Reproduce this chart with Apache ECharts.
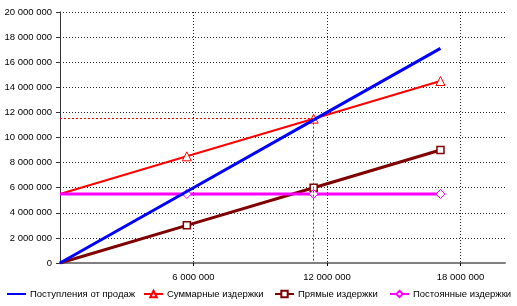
<!DOCTYPE html>
<html><head><meta charset="utf-8">
<script src="https://cdn.jsdelivr.net/npm/echarts@6/dist/echarts.min.js"></script>
<style>html,body{margin:0;padding:0;background:#fff}#c{width:517px;height:306px}</style>
</head><body><div id="c"></div>
<script>
const volume = [0, 5700000, 11400000, 17100000];
const revenue = [0, 5700000, 11400000, 17100000];
const totalCosts = [5500000, 8500000, 11500000, 14500000];
const directCosts = [0, 3000000, 6000000, 9000000];
const fixedCosts = [5500000, 5500000, 5500000, 5500000];
const seriesNames = ['Поступления от продаж', 'Суммарные издержки', 'Прямые издержки', 'Постоянные издержки'];
const xLabelValues = [6000000, 12000000, 18000000];
const breakEven = [11400000, 11500000];

const fmt = v => String(v).replace(/\B(?=(\d{3})+(?!\d))/g, ' ');
const pts = (ys) => volume.map((x, i) => {
  const p = {value: [x, ys[i]]};
  if (i === 0) p.symbol = 'none';
  return p;
});
const FONT = '"Liberation Sans", Arial, sans-serif';
const FS = 9.5;
const legendLefts = [6, 143, 274, 389];
const legends = seriesNames.map((n, i) => ({
  left: legendLefts[i], top: 289, padding: 0, itemWidth: 19, itemHeight: 8, itemGap: 0,
  textStyle: {fontFamily: FONT, fontSize: FS, color: '#000', padding: [0, 0, 0, -1]},
  data: [i === 0 ? {name: n, itemStyle: {color: 'rgba(0,0,0,0)', borderColor: 'rgba(0,0,0,0)'}} : n]
}));
const chart = echarts.init(document.getElementById('c'), null, {renderer: 'canvas'});
chart.setOption({
  animation: false,
  grid: {left: 60, right: 12, top: 12, bottom: 43, containLabel: false, outerBoundsMode: 'none'},
  legend: legends,
  xAxis: {
    type: 'value', min: 0, max: 20000000, interval: 2000000,
    axisLine: {show: true, lineStyle: {color: '#808080', width: 2}},
    axisTick: {show: true, customValues: xLabelValues, length: 3, inside: false, lineStyle: {color: '#000'}},
    axisLabel: {customValues: xLabelValues, formatter: fmt, fontFamily: FONT, fontSize: FS, color: '#000', margin: 9},
    splitLine: {show: true, lineStyle: {color: '#222', type: [1, 2], width: 1}}
  },
  yAxis: {
    type: 'value', min: 0, max: 20000000, interval: 2000000,
    axisLine: {show: true, lineStyle: {color: '#333', width: 1}},
    axisTick: {show: true, length: 4, lineStyle: {color: '#333'}},
    axisLabel: {formatter: fmt, fontFamily: FONT, fontSize: FS, color: '#000', margin: 8},
    splitLine: {show: true, lineStyle: {color: '#222', type: [1, 2], width: 1}}
  },
  series: [
    {name: seriesNames[0], type: 'line', data: pts(revenue), symbol: 'none', color: '#0000ff',
     lineStyle: {width: 3, color: '#0000ff'}, z: 4},
    {name: seriesNames[1], type: 'line', data: pts(totalCosts), symbol: 'triangle', symbolSize: 9, color: '#ff0000',
     lineStyle: {width: 2, color: '#ff0000'}, itemStyle: {color: '#fff', borderColor: '#ff0000', borderWidth: 1}, z: 3,
     markLine: {silent: true, symbol: 'none', label: {show: false},
       lineStyle: {color: '#ff0000', type: [2, 2], width: 1},
       data: [
         [{coord: [0, breakEven[1]]}, {coord: [breakEven[0], breakEven[1]]}],
         [{coord: [breakEven[0], breakEven[1]]}, {coord: [breakEven[0], 0]}]
       ]}},
    {name: seriesNames[2], type: 'line', data: pts(directCosts), symbol: 'rect', symbolSize: 7, color: '#800000',
     lineStyle: {width: 3, color: '#800000'}, itemStyle: {color: '#fff', borderColor: '#800000', borderWidth: 1.5}, z: 3},
    {name: seriesNames[3], type: 'line', data: pts(fixedCosts), symbol: 'diamond', symbolSize: 9, color: '#ff00ff',
     lineStyle: {width: 3, color: '#ff00ff'}, itemStyle: {color: '#fff', borderColor: '#ff00ff', borderWidth: 1}, z: 3}
  ]
});
</script></body></html>
